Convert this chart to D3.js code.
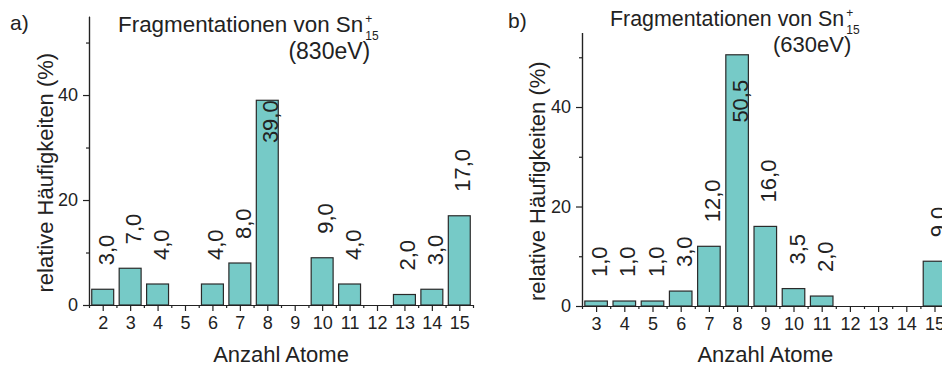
<!DOCTYPE html>
<html>
<head>
<meta charset="utf-8">
<script src="https://cdn.jsdelivr.net/npm/d3@7"></script>
<style>
  html, body { margin: 0; padding: 0; background: #fff; }
  svg { display: block; }
  text { font-family: "Liberation Sans", Arial, sans-serif; fill: #222; }
</style>
</head>
<body>
<svg id="chart" width="942" height="367"></svg>
<script>
// Fragment size distributions of Sn15+ clusters at two collision energies
const atomsA = [2, 3, 4, 5, 6, 7, 8, 9, 10, 11, 12, 13, 14, 15];
const shareA = [3.0, 7.0, 4.0, 0, 4.0, 8.0, 39.0, 0, 9.0, 4.0, 0, 2.0, 3.0, 17.0];

const atomsB = [3, 4, 5, 6, 7, 8, 9, 10, 11, 12, 13, 14, 15];
const shareB = [1.0, 1.0, 1.0, 3.0, 12.0, 50.5, 16.0, 3.5, 2.0, 0, 0, 0, 9.0];

const yMajorTicks = [0, 20, 40];
const yMinorTicks = [10, 30, 50];

const panelLetters = ["a)", "b)"];
const energies = ["(830eV)", "(630eV)"];
const titleText = "Fragmentationen von Sn";
const yTitle = "relative Häufigkeiten (%)";
const xTitle = "Anzahl Atome";

const BAR_FILL = "#76cac7";
const INK = "#222";

const svg = d3.select("#chart");

const panels = [
  {
    atoms: atomsA, share: shareA, letter: panelLetters[0], energy: energies[0],
    xDomain: [1.5, 15.5], xRange: [89, 473], yRange: [305, 16.3],
    letterPos: [10, 30], titleX: 118, titleY: 32, energyY: 59, titleSize: 22.4,
    yTitleX: 53, peakInset: 0
  },
  {
    atoms: atomsB, share: shareB, letter: panelLetters[1], energy: energies[1],
    xDomain: [2.5, 15.5], xRange: [582, 948.6], yRange: [306, 32.4],
    letterPos: [508, 28], titleX: 610, titleY: 26, energyY: 52, titleSize: 21.4,
    yTitleX: 545, peakInset: 25
  }
];

const fmt = v => d3.format(".1f")(v).replace(".", ",");

panels.forEach(p => {
  const g = svg.append("g");
  const x = d3.scaleLinear().domain(p.xDomain).range(p.xRange);
  const y = d3.scaleLinear().domain([0, 55]).range(p.yRange);
  const bw = (x(1) - x(0)) * 0.8;
  const y0 = y(0);

  // bars
  g.append("g").selectAll("rect")
    .data(p.atoms.map((a, i) => ({ a, v: p.share[i] })))
    .join("rect")
    .attr("x", d => x(d.a) - bw / 2)
    .attr("y", d => y(d.v))
    .attr("width", bw)
    .attr("height", d => y0 - y(d.v))
    .attr("fill", BAR_FILL)
    .attr("stroke", "#2a2a2a")
    .attr("stroke-width", 1.2);

  // x axis: integer ticks with labels, half-step minor ticks
  const halves = d3.range(p.xDomain[0], p.xDomain[1] + 0.01, 1);
  const xMinor = g.append("g").attr("transform", `translate(0,${y0})`)
    .call(d3.axisBottom(x).tickValues(halves).tickSize(3).tickSizeOuter(0).tickFormat(""));
  const xAxis = g.append("g").attr("transform", `translate(0,${y0})`)
    .call(d3.axisBottom(x).tickValues(p.atoms).tickSize(6).tickSizeOuter(0).tickPadding(5).tickFormat(d3.format("d")));
  xAxis.selectAll("text").attr("font-size", 18).attr("fill", INK);

  // y axis
  const yMinor = g.append("g").attr("transform", `translate(${p.xRange[0]},0)`)
    .call(d3.axisLeft(y).tickValues(yMinorTicks).tickSize(3).tickSizeOuter(0).tickFormat(""));
  const yAxis = g.append("g").attr("transform", `translate(${p.xRange[0]},0)`)
    .call(d3.axisLeft(y).tickValues(yMajorTicks).tickSize(6).tickSizeOuter(0).tickPadding(5).tickFormat(d3.format("d")));
  yAxis.selectAll("text").attr("font-size", 18).attr("fill", INK);

  [xMinor, xAxis, yMinor, yAxis].forEach(ax => {
    ax.selectAll("path, line").attr("stroke", INK).attr("stroke-width", 1.2);
  });

  // value labels, rotated; the tallest bar carries its label inside
  const peak = d3.max(p.share);
  g.append("g").selectAll("text")
    .data(p.atoms.map((a, i) => ({ a, v: p.share[i] })).filter(d => d.v > 0))
    .join("text")
    .attr("transform", d => {
      const ty = d.v === peak ? y(d.v) + p.peakInset : y(d.v) - 24;
      return `translate(${x(d.a)},${ty}) rotate(-90)`;
    })
    .attr("dy", "0.5em")
    .attr("text-anchor", d => d.v === peak ? "end" : "start")
    .attr("font-size", 22)
    .text(d => fmt(d.v));

  // panel letter
  g.append("text").attr("x", p.letterPos[0]).attr("y", p.letterPos[1])
    .attr("font-size", 21).text(p.letter);

  // title with stacked charge / size indices
  const t = g.append("text").attr("x", p.titleX).attr("y", p.titleY)
    .attr("font-size", p.titleSize).text(titleText);
  const tEnd = p.titleX + t.node().getComputedTextLength();
  g.append("text").attr("x", tEnd + 2).attr("y", p.titleY - 9)
    .attr("font-size", 12).text("+");
  g.append("text").attr("x", tEnd + 2).attr("y", p.titleY + 8)
    .attr("font-size", 12).text("15");
  g.append("text").attr("x", tEnd + 7).attr("y", p.energyY)
    .attr("text-anchor", "end").attr("font-size", p.titleSize + 0.6).text(p.energy);

  // axis titles
  g.append("text")
    .attr("transform", `translate(${p.yTitleX},${(y0 + y(55)) / 2 + 12}) rotate(-90)`)
    .attr("text-anchor", "middle").attr("font-size", 22).text(yTitle);
  g.append("text")
    .attr("x", (p.xRange[0] + p.xRange[1]) / 2).attr("y", 362)
    .attr("text-anchor", "middle").attr("font-size", 22).text(xTitle);
});
</script>
</body>
</html>
